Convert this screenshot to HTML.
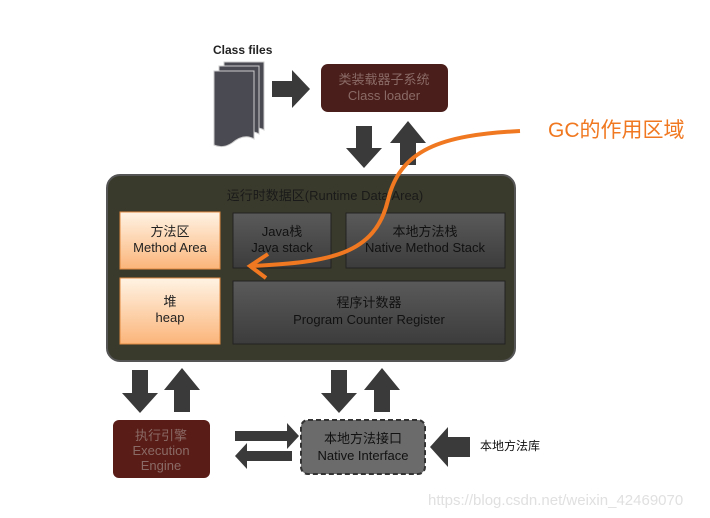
<!DOCTYPE html>
<html><head><meta charset="utf-8"><style>
html,body{margin:0;padding:0;background:#fff;width:710px;height:518px;overflow:hidden}
svg text{font-family:"Liberation Sans","Noto Sans CJK SC",sans-serif}
</style></head><body>
<svg width="710" height="518" viewBox="0 0 710 518" xmlns="http://www.w3.org/2000/svg">
<defs>
<linearGradient id="or" x1="0" y1="0" x2="0" y2="1"><stop offset="0" stop-color="#fff3e4"/><stop offset="1" stop-color="#fbb57a"/></linearGradient>
<linearGradient id="gr" x1="0" y1="0" x2="0" y2="1"><stop offset="0" stop-color="#5a5a5a"/><stop offset="1" stop-color="#3c3c3c"/></linearGradient>
</defs>
<text x="213" y="54" font-size="12" font-weight="bold" fill="#222">Class files</text>
<!-- doc stack -->
<g fill="#4a4a52" stroke="#ccc" stroke-width="1">
<path d="M224 62 h40 v68 q-10 -6 -22 4 q-9 6 -18 2 z"/>
<path d="M219 66 h40 v68 q-10 -6 -22 4 q-9 6 -18 2 z"/>
<path d="M214 71 h40 v68 q-10 -6 -22 4 q-9 6 -18 2 z"/>
</g>
<path d="M272 81 h20 v-11 l18 19 -18 19 v-11 h-20 z" fill="#3a3a3a"/>
<rect x="321" y="64" width="127" height="48" rx="7" fill="#4a1e1a"/>
<text x="384" y="84" font-size="13" fill="#8a6a66" text-anchor="middle">类装载器子系统</text>
<text x="384" y="100" font-size="13" fill="#8a6a66" text-anchor="middle">Class loader</text>
<path d="M356 126 h16 v22 h10 l-18 20 -18 -20 h10 z" fill="#3a3a3a"/>
<path d="M400 165 h16 v-22 h10 l-18 -22 -18 22 h10 z" fill="#3a3a3a"/>
<rect x="107" y="175" width="408" height="186" rx="13" fill="#3a3a2c" stroke="#555" stroke-width="2"/>
<text x="325" y="200" font-size="13" fill="#1a1a1a" text-anchor="middle">运行时数据区(Runtime Data Area)</text>
<rect x="120" y="212" width="100" height="57" fill="url(#or)" stroke="#e08a40"/>
<text x="170" y="236" font-size="13" fill="#222" text-anchor="middle">方法区</text>
<text x="170" y="252" font-size="13" fill="#222" text-anchor="middle">Method Area</text>
<rect x="120" y="278" width="100" height="66" fill="url(#or)" stroke="#e08a40"/>
<text x="170" y="306" font-size="13" fill="#222" text-anchor="middle">堆</text>
<text x="170" y="322" font-size="13" fill="#222" text-anchor="middle">heap</text>
<rect x="233" y="213" width="98" height="55" fill="url(#gr)" stroke="#222"/>
<text x="282" y="236" font-size="13" fill="#111" text-anchor="middle">Java栈</text>
<text x="282" y="252" font-size="13" fill="#111" text-anchor="middle">Java stack</text>
<rect x="346" y="213" width="159" height="55" fill="url(#gr)" stroke="#222"/>
<text x="425" y="236" font-size="13" fill="#111" text-anchor="middle">本地方法栈</text>
<text x="425" y="252" font-size="13" fill="#111" text-anchor="middle">Native Method Stack</text>
<rect x="233" y="281" width="272" height="63" fill="url(#gr)" stroke="#222"/>
<text x="369" y="307" font-size="13" fill="#111" text-anchor="middle">程序计数器</text>
<text x="369" y="324" font-size="13" fill="#111" text-anchor="middle">Program Counter Register</text>
<path d="M520 131 C440 135 400 150 388 200 C375 255 330 262 252 266" fill="none" stroke="#f07820" stroke-width="4"/>
<path d="M268 254 L250 266 L266 278" fill="none" stroke="#f07820" stroke-width="4"/>
<text x="548" y="137" font-size="21" fill="#f07820">GC的作用区域</text>
<path d="M132 370 h16 v23 h10 l-18 20 -18 -20 h10 z" fill="#3a3a3a"/>
<path d="M174 412 h16 v-22 h10 l-18 -22 -18 22 h10 z" fill="#3a3a3a"/>
<path d="M331 370 h16 v23 h10 l-18 20 -18 -20 h10 z" fill="#3a3a3a"/>
<path d="M374 412 h16 v-22 h10 l-18 -22 -18 22 h10 z" fill="#3a3a3a"/>
<rect x="113" y="420" width="97" height="58" rx="6" fill="#5a1c16"/>
<text x="161" y="440" font-size="13" fill="#8a6a66" text-anchor="middle">执行引擎</text>
<text x="161" y="455" font-size="13" fill="#8a6a66" text-anchor="middle">Execution</text>
<text x="161" y="470" font-size="13" fill="#8a6a66" text-anchor="middle">Engine</text>
<path d="M235 431 h52 v-8 l12 13 -12 13 v-8 h-52 z" fill="#3a3a3a"/>
<path d="M292 451 h-45 v-8 l-12 13 12 13 v-8 h45 z" fill="#3a3a3a"/>
<rect x="301" y="420" width="124" height="54" rx="7" fill="#6b6b6b" stroke="#333" stroke-width="2" stroke-dasharray="5,3"/>
<text x="363" y="443" font-size="13" fill="#111" text-anchor="middle">本地方法接口</text>
<text x="363" y="460" font-size="13" fill="#111" text-anchor="middle">Native Interface</text>
<path d="M470 437 h-22 v-10 l-18 20 18 20 v-10 h22 z" fill="#3a3a3a"/>
<text x="480" y="450" font-size="12" fill="#111">本地方法库</text>
<text x="428" y="505" font-size="15" fill="#e0e0e0">https://blog.csdn.net/weixin_42469070</text>
</svg>
</body></html>
